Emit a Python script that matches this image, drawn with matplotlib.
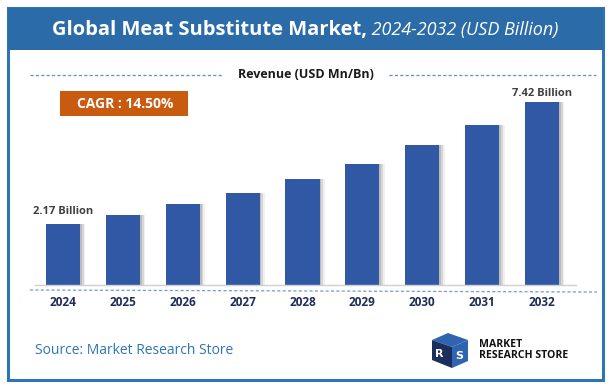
import matplotlib
matplotlib.use("Agg")
import matplotlib.pyplot as plt
from matplotlib.patches import Rectangle, Polygon
import numpy as np

years = ["2024", "2025", "2026", "2027", "2028", "2029", "2030", "2031", "2032"]
values = [2.17, 2.56, 3.03, 3.52, 4.11, 4.76, 5.56, 6.43, 7.42]
first_label = "2.17 Billion"
last_label = "7.42 Billion"
cagr_text = "CAGR : 14.50%"
title_bold = "Global Meat Substitute Market,"
title_italic = " 2024-2032 (USD Billion)"
axis_title = "Revenue (USD Mn/Bn)"
source_text = "Source: Market Research Store"

W, H = 611, 386
fig = plt.figure(figsize=(W / 100, H / 100), dpi=100)
FONT = "Open Sans"

def fx(px):
    return px / W

def fy(py):
    return 1 - py / H

# Frame and header
fig.patches.append(Rectangle((fx(8), fy(380)), fx(595), (380 - 8) / H, transform=fig.transFigure,
                             fill=False, edgecolor="#2E75B6", linewidth=2.2, zorder=0))
fig.patches.append(Rectangle((fx(8), fy(50)), fx(595), (50 - 8) / H, transform=fig.transFigure,
                             facecolor="#2B6BA8", edgecolor="none", zorder=1))

renderer = fig.canvas.get_renderer()
t1 = fig.text(0, fy(30), title_bold, color="white", fontsize=14.5, fontweight="bold",
              family=FONT, va="center", ha="left")
t2 = fig.text(0, fy(30), title_italic, color="white", fontsize=13, style="italic",
              family=FONT, va="center", ha="left")
w1 = t1.get_window_extent(renderer).width
w2 = t2.get_window_extent(renderer).width
start = (W - (w1 + w2)) / 2
t1.set_x(fx(start))
t2.set_x(fx(start + w1))

# Revenue label with dashed lines
fig.text(fx(306), fy(75), axis_title, fontsize=9, fontweight="bold", family=FONT,
         color="#1a1a1a", ha="center", va="center")
fig.lines.append(plt.Line2D([fx(30), fx(222)], [fy(75), fy(75)], transform=fig.transFigure,
                            color="#5B8FD0", linestyle=(0, (2.5, 1.8)), linewidth=0.9))
fig.lines.append(plt.Line2D([fx(389), fx(596)], [fy(75), fy(75)], transform=fig.transFigure,
                            color="#5B8FD0", linestyle=(0, (2.5, 1.8)), linewidth=0.9))

# Axes
ax = fig.add_axes([fx(35), fy(285), fx(576 - 35), (285 - 90) / H])
base = -0.455
x = np.arange(len(years))
vals = np.array(values)
for off, a in [(0.03, 0.35), (0.06, 0.25), (0.09, 0.12)]:
    ax.bar(x + off, vals - base, bottom=base, width=0.57, color="#8a8a8a", alpha=a,
           zorder=1, linewidth=0)
ax.bar(x, vals - base, bottom=base, width=0.57, color="#3158A5", zorder=2, linewidth=0)
ax.set_xlim(-0.468, 8.568)
ax.set_ylim(base, 7.94)
for s in ["top", "left", "right"]:
    ax.spines[s].set_visible(False)
ax.spines["bottom"].set_color("#d0d0d0")
ax.spines["bottom"].set_linewidth(1.0)
ax.set_yticks([])
ax.set_xticks(x)
ax.set_xticklabels(years, fontsize=8.5, fontweight="bold", color="#1F2D5A", family=FONT)
ax.tick_params(axis="x", length=0, pad=8)
ax.patch.set_alpha(0)

ax.annotate(first_label, (x[0], vals[0]), xytext=(0, 5), textcoords="offset points",
            ha="center", va="bottom", fontsize=8, fontweight="bold", color="#404040", family=FONT)
ax.annotate(last_label, (x[-1], vals[-1]), xytext=(0, 2), textcoords="offset points",
            ha="center", va="bottom", fontsize=8, fontweight="bold", color="#404040", family=FONT)

# dashed line under axis
fig.lines.append(plt.Line2D([fx(30), fx(597)], [fy(290), fy(292)], transform=fig.transFigure,
                            color="#6E9BD6", linestyle=(0, (2.5, 1.8)), linewidth=0.9))

# CAGR box
fig.patches.append(Rectangle((fx(60), fy(116)), fx(128), 25 / H, transform=fig.transFigure,
                             facecolor="#C95B10", edgecolor="none"))
fig.text(fx(125), fy(103.5), cagr_text, color="white", fontsize=10, fontweight="bold",
         family=FONT, ha="center", va="center")

# Source
fig.text(fx(35), fy(351), source_text, color="#2E75B6", fontsize=10, family=FONT,
         ha="left", va="center")

# Logo (simplified)
logo_blue = "#2F64B0"
dark = "#1B2F5C"
pts1 = [(432, 340), (448, 333), (468, 340), (452, 347)]
fig.patches.append(Polygon([(fx(a), fy(b)) for a, b in pts1], closed=True,
                           transform=fig.transFigure, facecolor=logo_blue, edgecolor="none"))
pts2 = [(432, 340), (452, 347), (452, 368), (432, 360)]
fig.patches.append(Polygon([(fx(a), fy(b)) for a, b in pts2], closed=True,
                           transform=fig.transFigure, facecolor=dark, edgecolor="none"))
pts3 = [(452, 347), (468, 340), (468, 361), (452, 368)]
fig.patches.append(Polygon([(fx(a), fy(b)) for a, b in pts3], closed=True,
                           transform=fig.transFigure, facecolor=logo_blue, edgecolor="none"))
fig.text(fx(435), fy(354), "R", color="white", fontsize=8, fontweight="bold", ha="left", va="center")
fig.text(fx(455), fy(356), "S", color="white", fontsize=8, fontweight="bold", ha="left", va="center")
fig.text(fx(479), fy(350), "MARKET\nRESEARCH STORE", color="#111111", fontsize=7.6,
         fontweight="bold", family=FONT, ha="left", va="center", linespacing=0.95)

fig.savefig("out.png", dpi=100)
